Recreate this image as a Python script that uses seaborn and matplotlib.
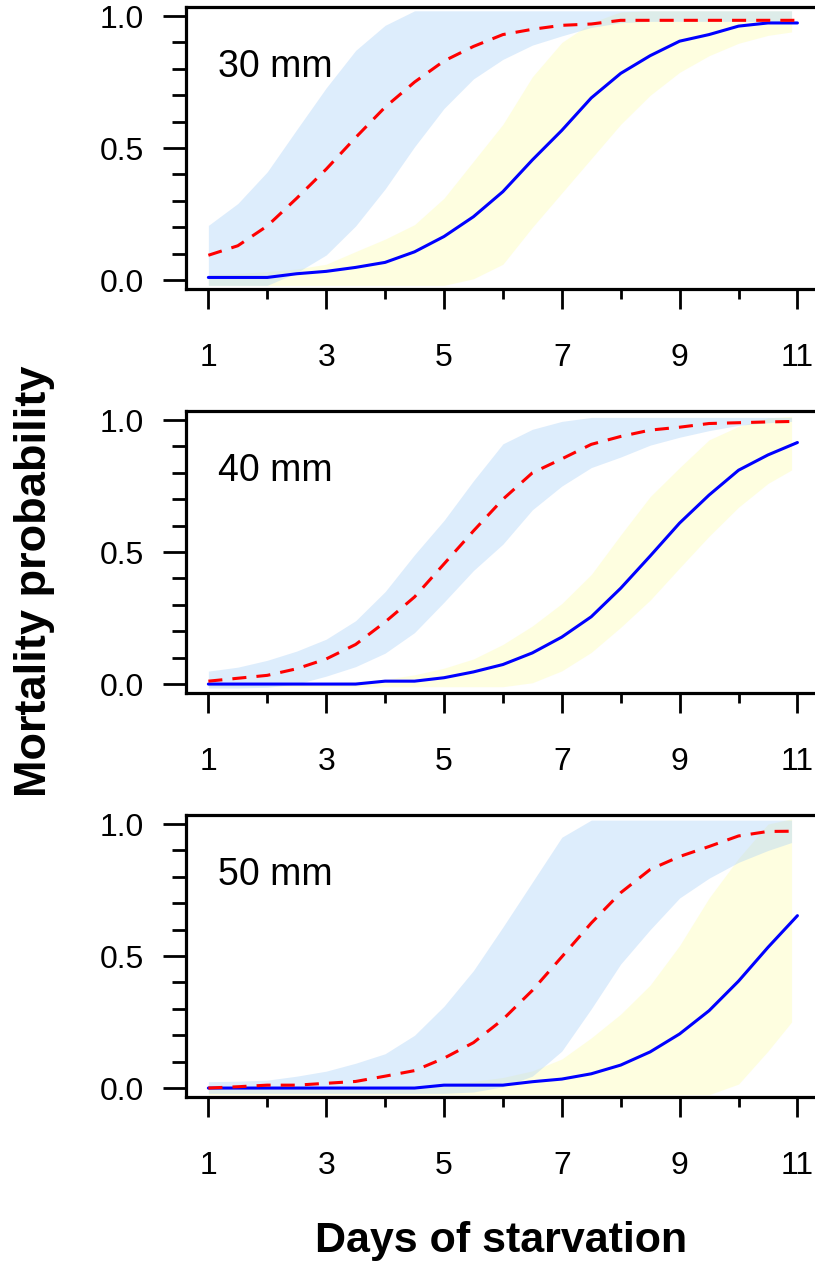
import matplotlib
matplotlib.use('Agg')
import matplotlib.pyplot as plt
from matplotlib.ticker import FixedLocator
import pandas as pd
import seaborn as sns

# =============================================================================
# Data
# =============================================================================
sizes = ['30 mm', '40 mm', '50 mm']

days = [1, 1.5, 2, 2.5, 3, 3.5, 4, 4.5, 5, 5.5, 6, 6.5, 7, 7.5, 8, 8.5,
        9, 9.5, 10, 10.5, 11]
band_days = [1, 1.5, 2, 2.5, 3, 3.5, 4, 4.5, 5, 5.5, 6, 6.5, 7, 7.5, 8, 8.5,
             9, 9.5, 10, 10.5, 10.9]

# 30 mm
dashed_30 = [0.094, 0.13, 0.205, 0.31, 0.42, 0.54, 0.655, 0.75, 0.83, 0.885,
             0.93, 0.95, 0.965, 0.97, 0.984, 0.984, 0.984, 0.984, 0.984,
             0.984, 0.984]
solid_30 = [0.01, 0.01, 0.01, 0.024, 0.033, 0.048, 0.067, 0.107, 0.165, 0.24,
            0.335, 0.455, 0.567, 0.69, 0.783, 0.85, 0.905, 0.93, 0.962,
            0.974, 0.974]
dashed_hi_30 = [0.207, 0.29, 0.41, 0.57, 0.728, 0.87, 0.965, 1.02, 1.02,
                1.02, 1.02, 1.02, 1.02, 1.02, 1.02, 1.02, 1.02, 1.02, 1.02,
                1.02, 1.02]
dashed_lo_30 = [-0.02, -0.02, -0.02, 0.028, 0.095, 0.205, 0.345, 0.505, 0.65,
                0.762, 0.836, 0.89, 0.925, 0.957, 0.975, 0.98, 0.98, 0.98,
                0.98, 0.98, 0.98]
solid_hi_30 = [0.02, 0.025, 0.032, 0.042, 0.06, 0.108, 0.155, 0.21, 0.31,
               0.45, 0.59, 0.77, 0.9, 0.975, 1.016, 1.02, 1.02, 1.02, 1.02,
               1.02, 1.02]
solid_lo_30 = [-0.02, -0.02, -0.02, -0.02, -0.02, -0.02, -0.02, -0.02, -0.02,
               0.005, 0.06, 0.2, 0.33, 0.46, 0.59, 0.70, 0.787, 0.85, 0.897,
               0.927, 0.94]

# 40 mm
dashed_40 = [0.011, 0.022, 0.033, 0.058, 0.095, 0.15, 0.235, 0.33, 0.455,
             0.58, 0.70, 0.8, 0.853, 0.908, 0.938, 0.962, 0.973, 0.987, 0.99,
             0.993, 0.995]
solid_40 = [0, 0, 0, 0, 0, 0, 0.011, 0.011, 0.024, 0.046, 0.074, 0.118,
            0.178, 0.255, 0.363, 0.485, 0.61, 0.716, 0.81, 0.868, 0.915]
dashed_hi_40 = [0.049, 0.064, 0.09, 0.125, 0.17, 0.24, 0.35, 0.49, 0.62,
                0.77, 0.91, 0.965, 0.995, 1.01, 1.01, 1.01, 1.01, 1.01, 1.01,
                1.01, 1.01]
dashed_lo_40 = [-0.015, -0.015, -0.012, 0.0, 0.03, 0.066, 0.117, 0.195, 0.31,
                0.43, 0.53, 0.66, 0.75, 0.82, 0.86, 0.905, 0.935, 0.96, 0.98,
                0.99, 0.995]
solid_hi_40 = [0.0, 0.0, 0.0, 0.003, 0.005, 0.01, 0.018, 0.035, 0.06, 0.095,
               0.15, 0.22, 0.305, 0.415, 0.565, 0.71, 0.82, 0.925, 0.976,
               1.008, 1.014]
solid_lo_40 = [-0.01, -0.01, -0.01, -0.01, -0.01, -0.01, -0.01, -0.01, -0.01,
               -0.01, -0.01, 0.005, 0.05, 0.12, 0.215, 0.318, 0.44, 0.56,
               0.67, 0.76, 0.811]

# 50 mm
dashed_50 = [0.0, 0.005, 0.011, 0.011, 0.018, 0.025, 0.045, 0.066, 0.113,
             0.172, 0.26, 0.37, 0.497, 0.625, 0.74, 0.828, 0.877, 0.915, 0.955,
             0.972, 0.973]
solid_50 = [0, 0, 0, 0, 0, 0, 0, 0, 0.011, 0.011, 0.011, 0.024, 0.034, 0.054,
            0.087, 0.137, 0.205, 0.293, 0.405, 0.533, 0.653]
dashed_hi_50 = [0.024, 0.026, 0.03, 0.045, 0.064, 0.094, 0.13, 0.2, 0.31,
                0.445, 0.61, 0.78, 0.95, 1.015, 1.015, 1.015, 1.015, 1.015,
                1.015, 1.015, 1.015]
dashed_lo_50 = [-0.02, -0.02, -0.02, -0.02, -0.02, -0.02, -0.02, -0.02, -0.02,
                -0.015, 0.005, 0.045, 0.14, 0.30, 0.47, 0.60, 0.72, 0.795,
                0.855, 0.9, 0.93]
solid_hi_50 = [0.005, 0.005, 0.005, 0.005, 0.005, 0.005, 0.005, 0.005, 0.015,
               0.025, 0.04, 0.065, 0.11, 0.19, 0.28, 0.39, 0.54, 0.72, 0.87,
               1.0, 1.02]
solid_lo_50 = [-0.025, -0.025, -0.025, -0.025, -0.025, -0.025, -0.025, -0.025,
               -0.025, -0.025, -0.025, -0.025, -0.025, -0.025, -0.025, -0.025,
               -0.025, -0.025, 0.015, 0.14, 0.25]

panels = [
    (solid_30, dashed_30, solid_lo_30, solid_hi_30, dashed_lo_30, dashed_hi_30),
    (solid_40, dashed_40, solid_lo_40, solid_hi_40, dashed_lo_40, dashed_hi_40),
    (solid_50, dashed_50, solid_lo_50, solid_hi_50, dashed_lo_50, dashed_hi_50),
]

# =============================================================================
# Plot
# =============================================================================
sns.set_theme(style='ticks', rc={'text.color': 'black',
                                 'axes.labelcolor': 'black',
                                 'xtick.color': 'black',
                                 'ytick.color': 'black',
                                 'axes.edgecolor': 'black'})
plt.rcParams['font.family'] = ['Liberation Sans', 'DejaVu Sans']

fig = plt.figure(figsize=(8.15, 12.7), dpi=100)
bottoms = [0.7724, 0.4543, 0.1362]

for size, bottom, (solid, dashed, s_lo, s_hi, d_lo, d_hi) in zip(
        sizes, bottoms, panels):
    ax = fig.add_axes([0.2282, bottom, 0.7777, 0.2220])

    ax.fill_between(band_days, s_lo, s_hi, color='#fefee0', linewidth=0,
                    zorder=1)
    ax.fill_between(band_days, d_lo, d_hi, color='#acd2f8', alpha=0.4,
                    linewidth=0, zorder=2)

    df = pd.DataFrame({'day': days, 'solid': solid, 'dashed': dashed})
    sns.lineplot(data=df, x='day', y='solid', ax=ax, color='blue',
                 linewidth=2.2, errorbar=None, zorder=3)
    sns.lineplot(data=df, x='day', y='dashed', ax=ax, color='red',
                 linewidth=2.2, linestyle=(0, (4.6, 3.3)), errorbar=None,
                 zorder=4)

    ax.set_xlim(0.62, 11.38)
    ax.set_ylim(-0.034, 1.034)
    ax.set_xlabel('')
    ax.set_ylabel('')

    ax.xaxis.set_major_locator(FixedLocator([1, 3, 5, 7, 9, 11]))
    ax.xaxis.set_minor_locator(FixedLocator([2, 4, 6, 8, 10]))
    ax.set_xticklabels(['1', '3', '5', '7', '9', '11'])
    ax.yaxis.set_major_locator(FixedLocator([0, 0.5, 1.0]))
    ax.yaxis.set_minor_locator(FixedLocator([0.1, 0.2, 0.3, 0.4, 0.6, 0.7,
                                             0.8, 0.9]))
    ax.set_yticklabels(['0.0', '0.5', '1.0'])

    ax.tick_params(axis='y', which='major', length=16.6, width=2.0,
                   labelsize=23, pad=13.7, color='black', labelcolor='black')
    ax.tick_params(axis='y', which='minor', length=10.4, width=2.0,
                   color='black')
    ax.tick_params(axis='x', which='major', length=14.7, width=2.0,
                   labelsize=23, pad=24, color='black', labelcolor='black')
    ax.tick_params(axis='x', which='minor', length=7.5, width=2.0,
                   color='black')

    for sp in ax.spines.values():
        sp.set_visible(True)
        sp.set_linewidth(2.3)
        sp.set_color('black')

    ax.text(0.051, 0.752, size, transform=ax.transAxes, fontsize=27,
            va='baseline', ha='left', color='black')

fig.text(0.042, 0.5425, 'Mortality probability', rotation=90, ha='center',
         va='center', fontsize=32.5, fontweight='bold', color='black')
fig.text(0.6153, 0.0142, 'Days of starvation', ha='center', va='baseline',
         fontsize=31, fontweight='bold', color='black')

fig.savefig('out.png', dpi=100)
